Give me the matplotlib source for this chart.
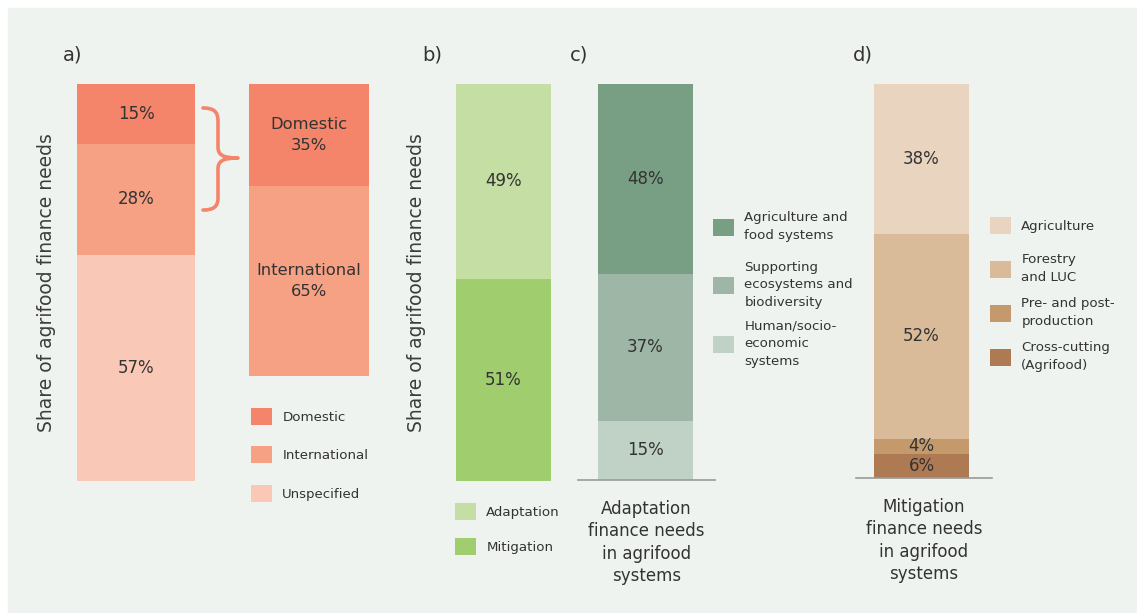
import numpy as np
import matplotlib.pyplot as plt
from matplotlib.patches import Rectangle, PathPatch
from matplotlib.path import Path

W, H = 1137, 613
TXT = "#333333"
BG = "#EFF3F0"

# data (shares in %, listed top segment first)
a_cats = ["Domestic", "International", "Unspecified"]
a_share = [15, 28, 57]
a_colors = ["#F4846A", "#F6A084", "#FAC8B6"]

split_cats = ["Domestic", "International"]
split_share = [35, 65]

b_cats = ["Adaptation", "Mitigation"]
b_share = [49, 51]
b_colors = ["#C5DEA4", "#A0CD6E"]

c_cats = ["Agriculture and\nfood systems", "Supporting\necosystems and\nbiodiversity",
          "Human/socio-\neconomic\nsystems"]
c_share = [48, 37, 15]
c_colors = ["#789E84", "#9DB6A6", "#C0D2C6"]

d_cats = ["Agriculture", "Forestry\nand LUC", "Pre- and post-\nproduction", "Cross-cutting\n(Agrifood)"]
d_share = [38, 52, 4, 6]
d_colors = ["#E8D4BF", "#D9BB9A", "#C49A6C", "#AD7A54"]

title_c = "Adaptation\nfinance needs\nin agrifood\nsystems"
title_d = "Mitigation\nfinance needs\nin agrifood\nsystems"
ylab = "Share of agrifood finance needs"

plt.rcParams["font.family"] = ["DejaVu Sans"]


def box(l, t, r, b):
    return [l / W, 1 - b / H, (r - l) / W, (b - t) / H]


def fx(x):
    return x / W


def fy(y):
    return 1 - y / H


def stacked(ax, values, colors, labels, xlim=(-0.5, 0.5), fs=12, ls=1.2):
    top = 100
    handles = []
    for v, c, lab in zip(values, colors, labels):
        bars = ax.bar(0, v, 1.0, bottom=top - v, color=c)
        ax.text(0, top - v / 2, lab, ha="center", va="center", fontsize=fs,
                color=TXT, linespacing=ls)
        handles.append(bars)
        top -= v
    ax.set_xlim(*xlim)
    ax.set_ylim(0, 100)
    ax.set_xticks([])
    ax.set_yticks([])
    for s in ax.spines.values():
        s.set_visible(False)
    ax.patch.set_alpha(0)
    return handles


def legend_col(handles, labels, x, ys):
    for h, lab, y in zip(handles, labels, ys):
        leg = fig.legend([h], [lab], loc="center left", bbox_to_anchor=(fx(x), fy(y)),
                         frameon=False, fontsize=9.6, handlelength=1.6, handleheight=1.6,
                         handletextpad=0.75, borderpad=0, borderaxespad=0,
                         labelcolor=TXT)
        for t in leg.get_texts():
            t.set_linespacing(1.45)


def baseline(ax):
    ax.spines["bottom"].set_visible(True)
    ax.spines["bottom"].set_color("#9A9A9A")
    ax.spines["bottom"].set_linewidth(1.2)


fig = plt.figure(figsize=(W / 100, H / 100), dpi=100)
fig.patch.set_facecolor("white")
fig.patches.append(Rectangle((fx(8), 0), 1 - fx(8), fy(8), transform=fig.transFigure,
                             color=BG, zorder=-10))

# a) total split
ax_a1 = fig.add_axes(box(77, 84, 195, 481))
h_a = stacked(ax_a1, a_share, a_colors, [f"{v}%" for v in a_share])

ax_a2 = fig.add_axes(box(249, 84, 369, 376))
stacked(ax_a2, split_share, a_colors[:2],
        [f"{c}\n{v}%" for c, v in zip(split_cats, split_share)], fs=11.8, ls=1.5)

legend_col(h_a, a_cats, 251, [416.5, 454.5, 493.5])

# curly brace between the two bars
bx = [(203, 108), (213, 108), (218, 111), (218, 121), (218, 147),
      (218, 155), (223, 158), (238, 158),
      (223, 158), (218, 161), (218, 169), (218, 198),
      (218, 207), (213, 210), (203, 210)]
codes = [Path.MOVETO, Path.CURVE4, Path.CURVE4, Path.CURVE4, Path.LINETO,
         Path.CURVE4, Path.CURVE4, Path.CURVE4,
         Path.CURVE4, Path.CURVE4, Path.CURVE4, Path.LINETO,
         Path.CURVE4, Path.CURVE4, Path.CURVE4]
brace = Path([(fx(x), fy(y)) for x, y in bx], codes)
fig.patches.append(PathPatch(brace, transform=fig.transFigure, fill=False,
                             edgecolor=a_colors[0], lw=2.6, capstyle="round",
                             joinstyle="round"))

# b) adaptation vs mitigation
ax_b = fig.add_axes(box(456, 84, 551, 481))
h_b = stacked(ax_b, b_share, b_colors, [f"{v}%" for v in b_share])
legend_col(h_b, b_cats, 455, [511.5, 546.5])

# c) adaptation breakdown (bar 95 px wide inside a wider baseline)
ax_c = fig.add_axes(box(578, 84, 715, 480))
h_c = stacked(ax_c, c_share, c_colors, [f"{v}%" for v in c_share],
              xlim=(-(645.5 - 578) / 95, (715 - 645.5) / 95))
baseline(ax_c)
ax_c.text(0.5, -0.05, title_c, transform=ax_c.transAxes, ha="center", va="top",
          fontsize=12, color=TXT, linespacing=1.32)
legend_col(h_c, c_cats, 713, [226.5, 284.5, 343.5])

# d) mitigation breakdown
ax_d = fig.add_axes(box(856, 84, 992, 478))
h_d = stacked(ax_d, d_share, d_colors, [f"{v}%" for v in d_share],
              xlim=(-(921.5 - 856) / 95, (992 - 921.5) / 95))
baseline(ax_d)
ax_d.text(0.5, -0.05, title_d, transform=ax_d.transAxes, ha="center", va="top",
          fontsize=12, color=TXT, linespacing=1.32)
legend_col(h_d, d_cats, 990, [225.5, 268.5, 312.5, 356.5])

# panel letters and axis titles
for lab, x in [("a)", 73), ("b)", 432), ("c)", 579), ("d)", 863)]:
    fig.text(fx(x), fy(55), lab, ha="center", va="center", fontsize=14, color=TXT)
for x in [46.5, 416.5]:
    fig.text(fx(x), fy(282.5), ylab, rotation=90, ha="center", va="center",
             fontsize=13.5, color="#3c3c3c")

fig.savefig("out.png", dpi=100)
